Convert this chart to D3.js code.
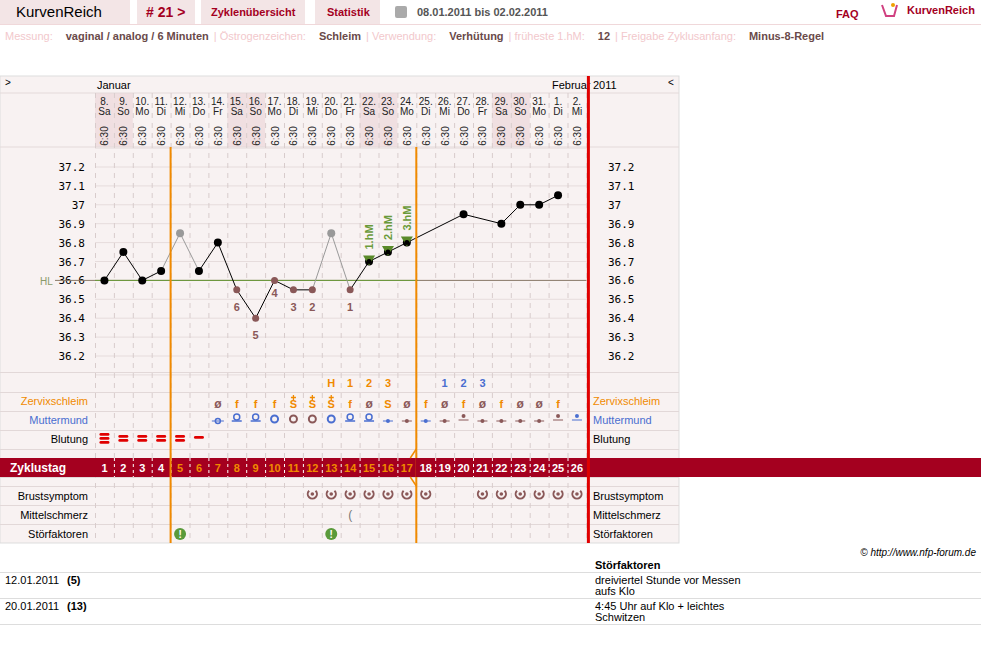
<!DOCTYPE html>
<html><head><meta charset="utf-8">
<script src="https://cdn.jsdelivr.net/npm/d3@7/dist/d3.min.js"></script>
<style>body{margin:0;background:#fff;font-family:Arial,"Liberation Sans",sans-serif}</style>
</head><body><svg id="c" width="981" height="652"></svg>
<script>
const dates=["8.","9.","10.","11.","12.","13.","14.","15.","16.","17.","18.","19.","20.","21.","22.","23.","24.","25.","26.","27.","28.","29.","30.","31.","1.","2."];
const weekdays=["Sa","So","Mo","Di","Mi","Do","Fr","Sa","So","Mo","Di","Mi","Do","Fr","Sa","So","Mo","Di","Mi","Do","Fr","Sa","So","Mo","Di","Mi"];
const cycleDays=d3.range(1,27);
const temps=[36.6,36.75,36.6,36.65,36.85,36.65,36.8,36.55,36.4,36.6,36.55,36.55,36.85,36.55,36.7,36.75,36.8,null,null,36.95,null,36.9,37.0,37.0,37.05,null];
const excluded=[5,13];
const lowNums=[[8,"6"],[9,"5"],[10,"4"],[11,"3"],[12,"2"],[14,"1"]];
const hmDays=[[15,"1.hM"],[16,"2.hM"],[17,"3.hM"]];
const yTicks=[37.2,37.1,37,36.9,36.8,36.7,36.6,36.5,36.4,36.3,36.2];
const topMarks=[[13,"H","o"],[14,"1","o"],[15,"2","o"],[16,"3","o"],[19,"1","b"],[20,"2","b"],[21,"3","b"]];
const zervix=[[7,"ø"],[8,"f"],[9,"f"],[10,"f"],[11,"S+"],[12,"S+"],[13,"S+"],[14,"f"],[15,"ø"],[16,"S"],[17,"ø"],[18,"f"],[19,"ø"],[20,"f"],[21,"ø"],[22,"f"],[23,"ø"],[24,"ø"],[25,"f"]];
const mumu=[[7,"sc","b"],[8,"hc","b"],[9,"hc","b"],[10,"c","b"],[11,"c","r"],[12,"c","r"],[13,"c","b"],[14,"hc","b"],[15,"hc","b"],[16,"d","b"],[17,"d","r"],[18,"d","b"],[19,"d","r"],[20,"hd","r"],[21,"d","r"],[22,"d","r"],[23,"d","r"],[24,"d","r"],[25,"hd","r"],[26,"hd","b"]];
const bleeding=[[1,3],[2,2],[3,2],[4,2],[5,2],[6,1]];
const breast=[12,13,14,15,16,17,18,21,22,23,24,25,26];
const midPain=[14];
const disturb=[5,13];
const info=[["Messung:",true],["vaginal / analog / 6 Minuten",false],["| Östrogenzeichen:",true],["Schleim",false],["| Verwendung:",true],["Verhütung",false],["| früheste 1.hM:",true],["12",false],["| Freigabe Zyklusanfang:",true],["Minus-8-Regel",false]];

const svg=d3.select("#c");
const X0=95,CW=18.9,N=26,XR=X0+N*CW;
const x=d3.scaleBand().domain(cycleDays).range([X0,XR]);
const cx=d=>x(d)+x.bandwidth()/2;
const y=d3.scaleLinear().domain([36.2,37.2]).range([356,167]);
const BR="#a4001f",OR="#f08a00",BL="#4a6ed0",MR="#8a5858";

[[0,130],[137,58],[201,104],[315,65]].forEach(([a,w])=>svg.append("rect").attr("x",a).attr("y",0).attr("width",w).attr("height",24).attr("fill","#f3e5e6"));
svg.append("line").attr("x1",0).attr("x2",981).attr("y1",24.5).attr("y2",24.5).attr("stroke","#f0d8da");
const t=(txt,xx,yy,o={})=>svg.append("text").attr("x",xx).attr("y",yy).text(txt).attr("font-size",o.s||11).attr("fill",o.c||"#000").attr("font-weight",o.w||"normal").attr("text-anchor",o.a||"start").attr("font-family",o.f||"Arial,'Liberation Sans',sans-serif");
t("KurvenReich",16,17,{s:15});
t("# 21 >",146,17,{s:14,c:BR,w:"bold"});
t("Zyklenübersicht",211,16,{c:BR,w:"bold"});
t("Statistik",327,16,{c:BR,w:"bold"});
svg.append("rect").attr("x",395).attr("y",6).attr("width",12).attr("height",12).attr("fill","#aaa").attr("rx",2);
t("08.01.2011 bis 02.02.2011",417,16,{c:"#555",w:"bold"});
t("FAQ",836,18,{c:BR,w:"bold"});
svg.append("path").attr("d","M882,5 L886,16 L894,16 L897,5").attr("fill","none").attr("stroke","#d04080").attr("stroke-width",2);
svg.append("circle").attr("cx",893).attr("cy",5).attr("r",2).attr("fill","#f0a000");
t("KurvenReich",907,14,{c:BR,w:"bold"});
let ixp=5;
info.forEach(d=>{const el=t(d[0],ixp,40,{c:d[1]?"#f2c8cc":"#6a4a4a",w:d[1]?"normal":"bold",s:11});
  ixp+=el.node().getComputedTextLength()+(d[1]?13:5);});

const TOP=76,BOT=543,TR=679;
svg.append("rect").attr("x",0).attr("y",TOP).attr("width",TR).attr("height",BOT-TOP).attr("fill","#f8f2f2").attr("stroke","#ddd");
cycleDays.forEach((d,i)=>{if(weekdays[i]=="Sa"||weekdays[i]=="So")svg.append("rect").attr("x",x(d)).attr("y",93).attr("width",CW).attr("height",54).attr("fill","#f0dfe1");});
[93,147].forEach(v=>svg.append("line").attr("x1",0).attr("x2",TR).attr("y1",v).attr("y2",v).attr("stroke","#e4dada"));
t(">",5,86,{s:10});t("<",668,86,{s:10});
t("Januar",97,89);t("Februar",552,89);t("2011",593,89);
cycleDays.forEach((d,i)=>{
  t(dates[i],cx(d),105,{s:10,a:"middle",c:"#222"});
  t(weekdays[i],cx(d),115,{s:10,a:"middle",c:"#222"});
  svg.append("text").attr("transform",`translate(${cx(d)+4},136) rotate(-90)`).text("6:30").attr("font-size",10).attr("fill","#222").attr("text-anchor","middle").attr("font-family","Arial");
});
d3.range(0,13).forEach(k=>{const v=37.3-k*0.1;svg.append("line").attr("x1",X0).attr("x2",XR).attr("y1",y(v)).attr("y2",y(v)).attr("stroke","#e6dcdc");});
[372,392,411,430,449,458,477,486,505,524].forEach(v=>svg.append("line").attr("x1",0).attr("x2",TR).attr("y1",v+0.5).attr("y2",v+0.5).attr("stroke","#e2d8d8"));
d3.range(0,N+1).forEach(i=>svg.append("line").attr("x1",X0+i*CW+0.5).attr("x2",X0+i*CW+0.5).attr("y1",93).attr("y2",BOT).attr("stroke","#d8cccc").attr("stroke-dasharray","5,5"));
const fmt=d=>String(+d.toFixed(1));
const g1=svg.append("g").attr("transform","translate(85,0)").call(d3.axisLeft(y).tickValues(yTicks).tickSize(0).tickFormat(fmt));
g1.select(".domain").remove();
g1.selectAll("text").attr("font-family","'DejaVu Sans Mono',monospace").attr("font-size",11).attr("fill","#000").attr("x",0);
const g2=svg.append("g").attr("transform","translate(608,0)").call(d3.axisRight(y).tickValues(yTicks).tickSize(0).tickFormat(fmt));
g2.select(".domain").remove();
g2.selectAll("text").attr("font-family","'DejaVu Sans Mono',monospace").attr("font-size",11).attr("fill","#000").attr("x",0);
svg.append("line").attr("x1",55).attr("x2",XR).attr("y1",y(36.6)).attr("y2",y(36.6)).attr("stroke","#8a7a6a");
svg.append("line").attr("x1",X0).attr("x2",418).attr("y1",y(36.6)).attr("y2",y(36.6)).attr("stroke","#6a9a3a");
t("HL",40,285,{s:10,c:"#8a9a6a"});

const pts=cycleDays.map((d,i)=>({d,v:temps[i],ex:excluded.includes(d)})).filter(p=>p.v!=null);
for(let i=0;i<pts.length-1;i++){const a=pts[i],b=pts[i+1];
  svg.append("line").attr("x1",cx(a.d)).attr("y1",y(a.v)).attr("x2",cx(b.d)).attr("y2",y(b.v)).attr("stroke",(a.ex||b.ex)?"#999":"#000");}
const lowSet=lowNums.map(d=>d[0]);
pts.forEach(p=>svg.append("circle").attr("cx",cx(p.d)).attr("cy",y(p.v)).attr("r",lowSet.includes(p.d)?3.5:4).attr("fill",p.ex?"#999":lowSet.includes(p.d)?MR:"#000"));
lowNums.forEach(([d,s])=>{const v=temps[d-1];const yy=d==10?y(v)+17:y(v)+21;t(s,cx(d),yy,{s:11,w:"bold",c:MR,a:"middle"});});
hmDays.forEach(([d,s])=>{const v=temps[d-1];
  svg.append("path").attr("d",`M${cx(d)-6},${y(v)-6} L${cx(d)+6},${y(v)-6} L${cx(d)},${y(v)+4}Z`).attr("fill","#5a8a2a");
  svg.append("circle").attr("cx",cx(d)).attr("cy",y(v)).attr("r",2.5).attr("fill","#000");
  svg.append("text").attr("transform",`translate(${cx(d)+4},${y(v)-12}) rotate(-90)`).text(s).attr("font-size",11).attr("font-weight","bold").attr("fill","#6a9a3a").attr("font-family","Arial");
});

t("Zervixschleim",88,405,{a:"end",c:OR});t("Muttermund",88,424,{a:"end",c:BL});t("Blutung",88,443,{a:"end"});
t("Brustsymptom",88,500,{a:"end"});t("Mittelschmerz",88,519,{a:"end"});t("Störfaktoren",88,538,{a:"end"});
t("Zervixschleim",593,405,{c:OR});t("Muttermund",593,424,{c:BL});t("Blutung",593,443);
t("Brustsymptom",593,500);t("Mittelschmerz",593,519);t("Störfaktoren",593,538);
topMarks.forEach(([d,s,c])=>t(s,cx(d),387,{a:"middle",w:"bold",c:c=="o"?OR:BL}));
zervix.forEach(([d,s])=>{const col=s=="ø"?MR:OR;
  t(s.replace("+",""),cx(d),408,{a:"middle",w:"bold",c:col,s:s=="ø"?12:11});
  if(s.includes("+")){svg.append("path").attr("d",`M${cx(d)-2.5},397.5h5M${cx(d)},395v5`).attr("stroke",OR).attr("stroke-width",1.3);}});
mumu.forEach(([d,s,c])=>{const col=c=="b"?BL:MR,X=cx(d);
  if(s=="c")svg.append("circle").attr("cx",X).attr("cy",419).attr("r",3.5).attr("fill","none").attr("stroke",col).attr("stroke-width",2);
  if(s=="sc"){svg.append("circle").attr("cx",X).attr("cy",421).attr("r",2.5).attr("fill","none").attr("stroke",col).attr("stroke-width",1.5);svg.append("line").attr("x1",X-6).attr("x2",X+6).attr("y1",421).attr("y2",421).attr("stroke",col);}
  if(s=="hc"){svg.append("circle").attr("cx",X).attr("cy",417).attr("r",3).attr("fill","none").attr("stroke",col).attr("stroke-width",1.5);svg.append("line").attr("x1",X-5).attr("x2",X+5).attr("y1",421).attr("y2",421).attr("stroke",col).attr("stroke-width",1.5);}
  if(s=="d"){svg.append("circle").attr("cx",X).attr("cy",421).attr("r",2).attr("fill",col);svg.append("line").attr("x1",X-5).attr("x2",X+5).attr("y1",421).attr("y2",421).attr("stroke",col);}
  if(s=="hd"){svg.append("circle").attr("cx",X).attr("cy",416).attr("r",2).attr("fill",col);svg.append("line").attr("x1",X-5).attr("x2",X+5).attr("y1",420).attr("y2",420).attr("stroke",col);}
});
bleeding.forEach(([d,n])=>{for(let k=0;k<n;k++){const yy=n==1?436:n==2?435+k*4:433+k*4;
  svg.append("rect").attr("x",cx(d)-5).attr("y",yy).attr("width",10).attr("height",2.8).attr("rx",1.4).attr("fill","#e00000");}});
svg.append("rect").attr("x",0).attr("y",458).attr("width",981).attr("height",19).attr("fill",BR);
t("Zyklustag",10,472,{c:"#fff",w:"bold",s:12});
cycleDays.forEach(d=>t(String(d),cx(d),472,{a:"middle",w:"bold",c:(d>=5&&d<=17)?OR:"#fff",s:11}));
d3.range(1,N).forEach(i=>svg.append("line").attr("x1",X0+i*CW+0.5).attr("x2",X0+i*CW+0.5).attr("y1",458).attr("y2",477).attr("stroke","#fff").attr("stroke-dasharray","3,3"));
const arc=d3.arc().innerRadius(3.6).outerRadius(5.6).startAngle(Math.PI/2-0.8).endAngle(3*Math.PI/2+0.8);
breast.forEach(d=>{svg.append("path").attr("d",arc()).attr("transform",`translate(${cx(d)},494)`).attr("fill",MR);
  svg.append("circle").attr("cx",cx(d)).attr("cy",494).attr("r",1.8).attr("fill",MR);});
midPain.forEach(d=>t("(",cx(d),519,{a:"middle",c:"#777",s:12}));
disturb.forEach(d=>{svg.append("circle").attr("cx",cx(d)).attr("cy",534).attr("r",6).attr("fill","#5a9a3a");t("!",cx(d),538,{a:"middle",w:"bold",c:"#fff",s:10});});
[X0+4*CW,X0+17*CW].forEach(v=>svg.append("line").attr("x1",v).attr("x2",v).attr("y1",147).attr("y2",BOT).attr("stroke",OR).attr("stroke-width",2));
svg.append("rect").attr("x",X0+17*CW-1).attr("y",458).attr("width",3).attr("height",19).attr("fill",BR);
svg.append("line").attr("x1",X0+17*CW).attr("x2",X0+17*CW-6).attr("y1",449).attr("y2",458).attr("stroke",OR).attr("stroke-width",1.5);
svg.append("line").attr("x1",X0+17*CW-6).attr("x2",X0+17*CW).attr("y1",477).attr("y2",486).attr("stroke",OR).attr("stroke-width",1.5);
svg.append("line").attr("x1",XR+2).attr("x2",XR+2).attr("y1",TOP).attr("y2",BOT).attr("stroke","#e00000").attr("stroke-width",3);

t("© http://www.nfp-forum.de",976,556,{a:"end",s:10}).attr("font-style","italic");
t("Störfaktoren",595,569,{w:"bold"});
[572,598,624].forEach(v=>svg.append("line").attr("x1",0).attr("x2",981).attr("y1",v+0.5).attr("y2",v+0.5).attr("stroke","#ddd"));
t("12.01.2011",5,584);t("(5)",67,584,{w:"bold"});t("dreiviertel Stunde vor Messen",595,584);t("aufs Klo",595,595);
t("20.01.2011",5,610);t("(13)",67,610,{w:"bold"});t("4:45 Uhr auf Klo + leichtes",595,610);t("Schwitzen",595,621);
</script></body></html>
